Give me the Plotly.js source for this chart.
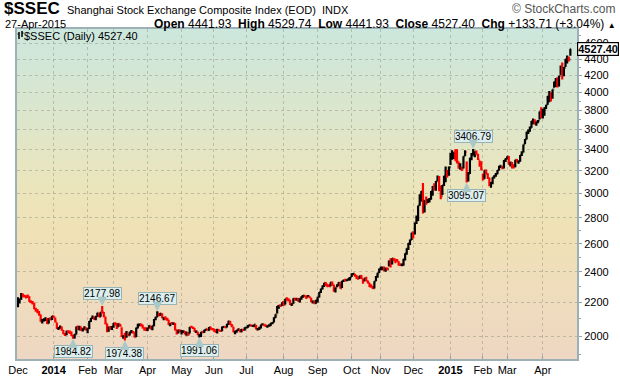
<!DOCTYPE html>
<html><head><meta charset="utf-8">
<script src="https://cdn.plot.ly/plotly-3.0.1.min.js"></script>
<style>
html,body{margin:0;padding:0;background:#fff;overflow:hidden;}
#wrap{position:relative;width:620px;height:376px;}
#bg{position:absolute;left:17px;top:29px;width:560px;height:330px;
 background:linear-gradient(to bottom,#cce7dd 0%,#dbe6cd 25%,#ebe5bb 48%,#f0e1b6 62%,#eed7c3 100%);}
#chart{position:absolute;left:0;top:0;width:620px;height:376px;}
</style></head><body>
<div id="wrap"><div id="bg"></div><div id="chart"></div></div>
<script>
// ---- data (trading days, Dec 2013 .. 27 Apr 2015) ----
const monthLabels = ['Dec','<b>2014</b>','Feb','Mar','Apr','May','Jun','Jul','Aug','Sep','Oct','Nov','Dec','<b>2015</b>','Feb','Mar','Apr'];
const monthDays   = [22,21,16,21,21,20,20,23,21,21,18,20,23,20,15,22,18];
const firstOpen = 2180;
const closes = [
 2207,2222,2251,2245,2238,2238,2238,2205,2203,2196,2160,2152,2143,2126,2085,2089,2093,2102,2073,2101,2097,2116,
 2109,2083,2045,2047,2052,2033,2013,2009,2027,2023,2023,2004,1991,2009,2052,2042,2054,2033,2038,2049,2033,
 2044,2086,2104,2110,2100,2115,2136,2112,2142,2141,2113,2076,2035,2047,2045,2056,
 2075,2071,2053,2071,2058,1999,2001,1997,2019,2004,2023,2025,2021,1993,2047,2066,2067,2064,2046,2041,2033,
 2047,2059,2043,2058,2098,2110,2134,2130,2131,2105,2106,2098,2098,2066,2074,2071,2075,2036,2020,2034,2026,
 2027,2028,2010,2015,2011,2052,2051,2047,2025,2026,2005,2008,2024,2022,2034,2041,2034,2051,2040,2039,
 2034,2024,2035,2030,2029,2052,2054,2050,2070,2087,2066,2055,2024,2026,2034,2039,2025,2038,2036,2048,
 2050,2060,2064,2059,2060,2067,2038,2040,2047,2066,2068,2064,2055,2059,2060,2075,2076,2108,2127,2178,2183,2182,2202,
 2185,2223,2221,2218,2188,2194,2225,2222,2224,2209,2226,2239,2246,2240,2237,2241,2229,2206,2207,2195,2217,
 2235,2266,2288,2306,2326,2319,2307,2304,2331,2315,2272,2295,2315,2329,2290,2339,2345,2343,2348,2358,2364,
 2383,2389,2374,2366,2359,2374,2357,2341,2357,2339,2327,2302,2302,2290,2337,2373,2392,2420,
 2430,2430,2419,2425,2418,2474,2469,2494,2485,2478,2474,2456,2451,2452,2487,2532,2567,2604,2630,2683,
 2680,2763,2779,2900,2937,3020,2856,2940,2925,2938,2953,3021,3061,3057,3108,3128,3032,2977,3073,3157,3168,3166,3235,
 3351,3352,3374,3294,3286,3230,3236,3223,3336,3376,3116,3173,3323,3343,3351,3383,3353,3305,3262,3210,
 3128,3204,3174,3136,3076,3095,3142,3158,3173,3204,3247,3247,3229,3298,3310,
 3336,3263,3280,3248,3241,3302,3286,3291,3349,3372,3449,3503,3577,3582,3617,3687,3691,3661,3683,3691,3787,3748,
 3810,3825,3863,3961,3995,3957,4035,4122,4135,4084,4195,4287,4218,4294,4398,4414,4393.69,4527.40
];
const highs = [
 2233,2224,2260,2258,2248,2246,2250,2240,2214,2210,2198,2168,2160,2148,2126,2099,2104,2110,2104,2103,2110,2119,
 2120,2108,2078,2051,2060,2055,2035,2017,2030,2033,2032,2024,2006,2012,2055,2060,2058,2053,2045,2056,2050,
 2045,2087,2105,2120,2112,2117,2137,2134,2142,2177.98,2142,2113,2072,2055,2058,2058,
 2076,2080,2076,2073,2071,2051,2004,2019,2028,2015,2025,2034,2028,2022,2049,2071,2073,2072,2065,2050,2050,
 2048,2062,2058,2061,2099,2112,2146.67,2134,2136,2134,2109,2115,2106,2094,2076,2081,2078,2076,2037,2036,2037,
 2035,2032,2028,2026,2023,2052,2059,2054,2046,2032,2024,2011,2025,2027,2036,2042,2041,2052,2053,2044,
 2043,2037,2041,2039,2034,2055,2055,2056,2071,2088,2087,2069,2054,2030,2034,2043,2039,2040,2039,2050,
 2053,2064,2067,2066,2063,2068,2064,2046,2053,2067,2074,2067,2067,2061,2068,2076,2081,2110,2127,2179,2185,2189,2202,
 2209,2224,2233,2225,2217,2196,2227,2230,2228,2228,2227,2240,2248,2247,2241,2247,2240,2230,2212,2212,2218,
 2237,2267,2289,2310,2327,2333,2319,2315,2331,2336,2316,2296,2318,2332,2330,2340,2347,2354,2350,2358,2365,
 2391,2392,2388,2380,2369,2376,2380,2353,2360,2367,2342,2327,2317,2306,2337,2373,2394,2423,
 2438,2436,2438,2428,2430,2479,2496,2495,2497,2492,2490,2475,2459,2458,2492,2532,2568,2606,2632,2683,
 2695,2763,2819,2900,2994,3021,3091,2943,2974,2957,2963,3022,3065,3090,3110,3159,3154,3070,3074,3157,3239,3207,3239,
 3369,3394,3375,3404,3404,3286,3270,3236,3336,3394,3286,3190,3323,3366,3406.79,3383,3390,3359,3295,3288,
 3174,3205,3212,3178,3140,3100,3142,3160,3181,3208,3248,3250,3244,3300,3317,
 3336,3339,3282,3282,3260,3302,3309,3294,3349,3384,3450,3503,3578,3600,3632,3688,3715,3707,3684,3700,3788,3835,
 3817,3835,3864,3961,4016,4000,4035,4128,4168,4177,4195,4318,4356,4300,4400,4444,4433,4529.74
];
const lows = [
 2171,2194,2217,2234,2232,2225,2228,2204,2195,2188,2158,2143,2134,2119,2083,2073,2084,2087,2070,2072,2092,2093,
 2105,2079,2040,2035,2041,2030,2010,2000,2004,2016,2012,2000,1984.82,1986,2008,2035,2031,2030,2026,2036,2031,
 2016,2040,2081,2099,2094,2092,2112,2110,2112,2133,2109,2066,2021,2025,2036,2035,
 2048,2060,2040,2053,2055,1994,1985,1974.38,1990,2000,2003,2016,2014,1992,1994,2043,2057,2055,2043,2030,2029,
 2028,2043,2038,2033,2056,2092,2110,2115,2117,2103,2092,2094,2089,2063,2057,2066,2064,2031,2009,2014,2022,
 2009,2017,2009,2002,2002,2015,2046,2040,2024,2017,2004,1991.06,1994,2016,2017,2030,2032,2030,2038,2033,
 2024,2019,2014,2029,2023,2027,2047,2044,2049,2064,2063,2050,2022,2010,2018,2029,2021,2021,2029,2031,
 2043,2047,2057,2055,2053,2050,2037,2031,2035,2043,2064,2057,2052,2047,2054,2058,2068,2078,2105,2133,2162,2172,2178,
 2180,2188,2211,2206,2184,2178,2192,2212,2211,2205,2200,2218,2230,2234,2222,2233,2228,2202,2194,2192,2192,
 2200,2232,2260,2283,2299,2306,2298,2300,2304,2308,2268,2264,2297,2305,2288,2292,2333,2336,2337,2340,2342,
 2366,2377,2367,2353,2347,2354,2353,2320,2337,2337,2322,2300,2295,2286,2289,2338,2360,2393,
 2411,2411,2404,2401,2412,2438,2431,2451,2474,2460,2470,2443,2441,2440,2442,2480,2520,2554,2591,2629,
 2640,2670,2751,2774,2898,2933,2834,2842,2906,2920,2924,2947,2982,3027,3024,3107,3019,2951,2987,3066,3099,3140,3157,
 3254,3303,3311,3294,3267,3220,3210,3200,3221,3337,3095.07,3104,3171,3299,3343,3327,3353,3300,3237,3209,
 3113,3130,3164,3128,3063,3049,3081,3131,3148,3170,3204,3227,3215,3222,3283,
 3306,3256,3239,3222,3222,3234,3280,3265,3285,3339,3372,3451,3498,3553,3576,3617,3653,3649,3638,3664,3704,3716,
 3715,3744,3817,3863,3891,3900,3930,4053,4062,4058,4070,4207,4152,4189,4300,4345,4368,4441.93
];
const yTickVals = [2000,2200,2400,2600,2800,3000,3200,3400,3600,3800,4000,4200,4400,4600];
const yMinorVals = [1900,2100,2300,2500,2700,2900,3100,3300,3500,3700,3900,4100,4300,4500,4700];
// callouts: bar index and which extreme
const callouts = [
 {i:34, kind:'low'}, {i:52, kind:'high'}, {i:66, kind:'low'}, {i:86, kind:'high'},
 {i:112, kind:'low'}, {i:277, kind:'low'}, {i:281, kind:'high'}
];
const headerStats = '<b>Open</b> 4441.93  <b>High</b> 4529.74  <b>Low</b> 4441.93  <b>Close</b> 4527.40  <b>Chg</b> +133.71 (+3.04%) <span style="font-size:8px">▲</span>';

// ---- build ----
const n = closes.length;
const xs = closes.map((_, i) => i);
const opens = closes.map((c, i) => i === 0 ? firstOpen : closes[i - 1]);
const monthStarts = [];
monthDays.reduce((acc, d) => { monthStarts.push(acc); return acc + d; }, 0);

const FONT = 'Liberation Sans, Arial, sans-serif';
const PL = 17, PR = 577, PT = 29, PB = 359;
const px2x = p => (p - PL) / (PR - PL);
const py2y = p => (PB - p) / (PB - PT);

const anns = [];
function paperText(text, px, py, xanchor, size, color) {
  anns.push({xref:'paper', yref:'paper', x:px2x(px), y:py2y(py), xanchor:xanchor, yanchor:'middle',
    text:text, showarrow:false, font:{family:FONT, size:size, color:color || '#000'}, borderpad:0});
}
paperText('<b>$SSEC</b>', 3, 8.5, 'left', 17, '#000');
paperText('Shanghai Stock Exchange Composite Index (EOD)  INDX', 66, 10, 'left', 11, '#000');
paperText('© StockCharts.com', 617, 9, 'right', 12, '#555');
paperText('27-Apr-2015', 4, 24.5, 'left', 11, '#000');
paperText(headerStats, 617, 23.5, 'right', 12, '#000');
paperText('$SSEC (Daily) ' + closes[n - 1].toFixed(2), 23, 36, 'left', 11, '#000');

callouts.forEach(c => {
  const isHigh = c.kind === 'high';
  const v = isHigh ? highs[c.i] : lows[c.i];
  anns.push({x:c.i, y:Math.log10(v), xref:'x', yref:'y', text:v.toFixed(2),
    showarrow:true, ax:0, ay:isHigh ? -12.5 : 12.5, arrowhead:2, arrowwidth:1.5, arrowsize:1.25,
    arrowcolor:'#a9c8c8', standoff:0,
    bgcolor:'#dcefee', bordercolor:'#98b4b6', borderwidth:1, borderpad:0,
    font:{family:FONT, size:10, color:'#000'}});
});
// last price tag on the axis
anns.push({xref:'paper', yref:'y', x:1, y:Math.log10(closes[n - 1]), text:'<b>' + closes[n - 1].toFixed(2) + '</b>',
  showarrow:true, ax:21, ay:0, arrowhead:2, arrowsize:1, arrowwidth:1.5, arrowcolor:'#000', standoff:0,
  bgcolor:'#fff', bordercolor:'#000', borderwidth:1.2, borderpad:0, font:{family:FONT, size:11, color:'#000'}});

const shapes = [
  {type:'line', xref:'paper', yref:'paper', x0:px2x(19), x1:px2x(19), y0:py2y(32), y1:py2y(39), line:{color:'#000', width:1.5}},
  {type:'line', xref:'paper', yref:'paper', x0:px2x(22), x1:px2x(22), y0:py2y(31), y1:py2y(37), line:{color:'#000', width:1.5}},
  {type:'line', xref:'paper', yref:'paper', x0:px2x(17.5), x1:px2x(19), y0:py2y(34), y1:py2y(34), line:{color:'#000', width:1}},
  {type:'line', xref:'paper', yref:'paper', x0:px2x(22), x1:px2x(23.5), y0:py2y(33), y1:py2y(33), line:{color:'#000', width:1}}
];

const trace = {
  type:'ohlc', x:xs, open:opens, high:highs, low:lows, close:closes,
  increasing:{line:{color:'#000000', width:2.2}}, decreasing:{line:{color:'#ff0000', width:2.2}},
  tickwidth:0.55, hoverinfo:'skip', showlegend:false
};

const gridStyle = {showgrid:true, gridcolor:'rgba(140,140,120,0.45)', gridwidth:1, griddash:'3px,3px'};
const layout = {
  width:620, height:376, margin:{l:PL, r:620 - PR, t:PT, b:376 - PB, pad:0},
  paper_bgcolor:'rgba(0,0,0,0)', plot_bgcolor:'rgba(0,0,0,0)',
  showlegend:false, hovermode:false, dragmode:false,
  xaxis:Object.assign({type:'linear', range:[-0.6, 345.1], tickmode:'array', tickvals:monthStarts, ticktext:monthLabels,
    ticks:'inside', ticklen:3, tickcolor:'#8ea4ab', showline:true, linecolor:'#9db0b6', linewidth:2, mirror:true,
    zeroline:false, fixedrange:true, tickfont:{family:FONT, size:11, color:'#000'}, rangeslider:{visible:false}}, gridStyle),
  yaxis:Object.assign({type:'log', side:'right', range:[3.2726, 3.68054], tickmode:'array', tickvals:yTickVals,
    ticktext:yTickVals.map(String), ticks:'outside', ticklen:3, tickcolor:'#8ea4ab', showline:true, linecolor:'#9db0b6',
    linewidth:2, mirror:true, zeroline:false, fixedrange:true, tickfont:{family:FONT, size:11, color:'#000'},
    minor:{tickmode:'array', tickvals:yMinorVals, ticks:'outside', ticklen:2, tickcolor:'#8ea4ab', showgrid:false}}, gridStyle),
  annotations:anns, shapes:shapes
};
Plotly.newPlot('chart', [trace], layout, {displayModeBar:false, staticPlot:true});
</script>
</body></html>
